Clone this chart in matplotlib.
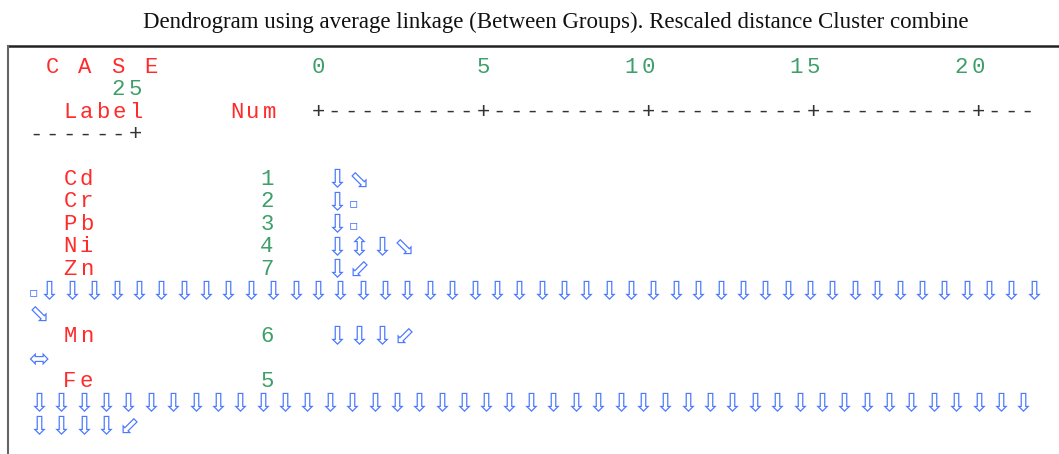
import matplotlib
matplotlib.use("Agg")
import matplotlib.pyplot as plt

title = "Dendrogram using average linkage (Between Groups). Rescaled distance Cluster combine"
labels = ["Cd", "Cr", "Pb", "Ni", "Zn", "Mn", "Fe"]
nums = [1, 2, 3, 4, 7, 6, 5]
label_rows = [5, 6, 7, 8, 9, 12, 14]
ticks = [0, 5, 10, 15, 20, 25]
scale_max = 25

# tree glyph rows: (row, wrapped line?, glyphs)
tree_rows = [
    (5, False, "⇩⬂"),
    (6, False, "⇩▫"),
    (7, False, "⇩▫"),
    (8, False, "⇩⇳⇩⬂"),
    (9, False, "⇩⬃"),
    (10, True, "▫" + "⇩" * 45),
    (11, True, "⬂"),
    (12, False, "⇩⇩⇩⬃"),
    (13, True, "⬄"),
    (15, True, "⇩" * 45),
    (16, True, "⇩⇩⇩⇩⬃"),
]

RED = "#ff2b2b"
GREEN = "#3f9f6a"
BLUE = "#4a78ff"
DARK = "#333333"

W, H = 1059, 454
fig = plt.figure(figsize=(W / 100, H / 100), dpi=100)
ax = fig.add_axes([0, 0, 1, 1])
ax.set_xlim(0, W)
ax.set_ylim(H, 0)
ax.axis("off")

pitch = 16.5          # monospace character pitch
unit = 33.0           # pixels per unit of rescaled distance
x_axis0 = 318.0       # x of distance 0
wrap_at, wrap_shift = 1040, 1008
row_y0, row_h = 67.5, 22.4

mono = dict(family="Liberation Mono", fontsize=16)


def row_y(r):
    return row_y0 + r * row_h


def put_text(x, r, s, color):
    for i, ch in enumerate(s):
        if ch != " ":
            ax.text(x + i * pitch, row_y(r), ch, ha="center", va="center",
                    color=color, **mono)


def put_wrapped(x, r, ch, color):
    if x > wrap_at:
        x -= wrap_shift
        r += 1
    ax.text(x, row_y(r), ch, ha="center", va="center", color=color, **mono)


# title and frame
ax.text(556, 22, title, ha="center", va="center",
        family="Liberation Serif", fontsize=16.5, color="#111111")
ax.plot([8, W], [46, 46], color="#222222", lw=1.8)
ax.plot([8, 8], [46, H], color="#666666", lw=1.5)

# header
put_text(52, 0, "C A S E", RED)
put_text(70, 2, "Label", RED)
put_text(236.5, 2, "Num", RED)

# scale ticks and axis line
for t in ticks:
    s = str(t)
    xr = x_axis0 + t * unit
    for i, ch in enumerate(s):
        put_wrapped(xr - (len(s) - 1 - i) * pitch, 0, ch, GREEN)
n_chars = int(scale_max * unit / pitch)
for k in range(n_chars + 1):
    ch = "+" if k % 10 == 0 else "-"
    put_wrapped(x_axis0 + k * pitch, 2, ch, DARK)

# case labels and numbers
for lab, num, r in zip(labels, nums, label_rows):
    put_text(70, r, lab, RED)
    ax.text(267, row_y(r), str(num), ha="center", va="center", color=GREEN, **mono)

# tree glyphs
adv = {"▫": 10.5}
gsize = {"▫": 10}
for r, wrapped, glyphs in tree_rows:
    x = 28.0 if wrapped else 325.8
    for g in glyphs:
        a = adv.get(g, 22.37)
        ax.text(x + a / 2, row_y(r) + 1, g, ha="center", va="center", color=BLUE,
                family=["DejaVu Sans", "Noto Sans CJK SC"],
                fontsize=gsize.get(g, 18))
        x += a

fig.savefig("out.png", dpi=100)
